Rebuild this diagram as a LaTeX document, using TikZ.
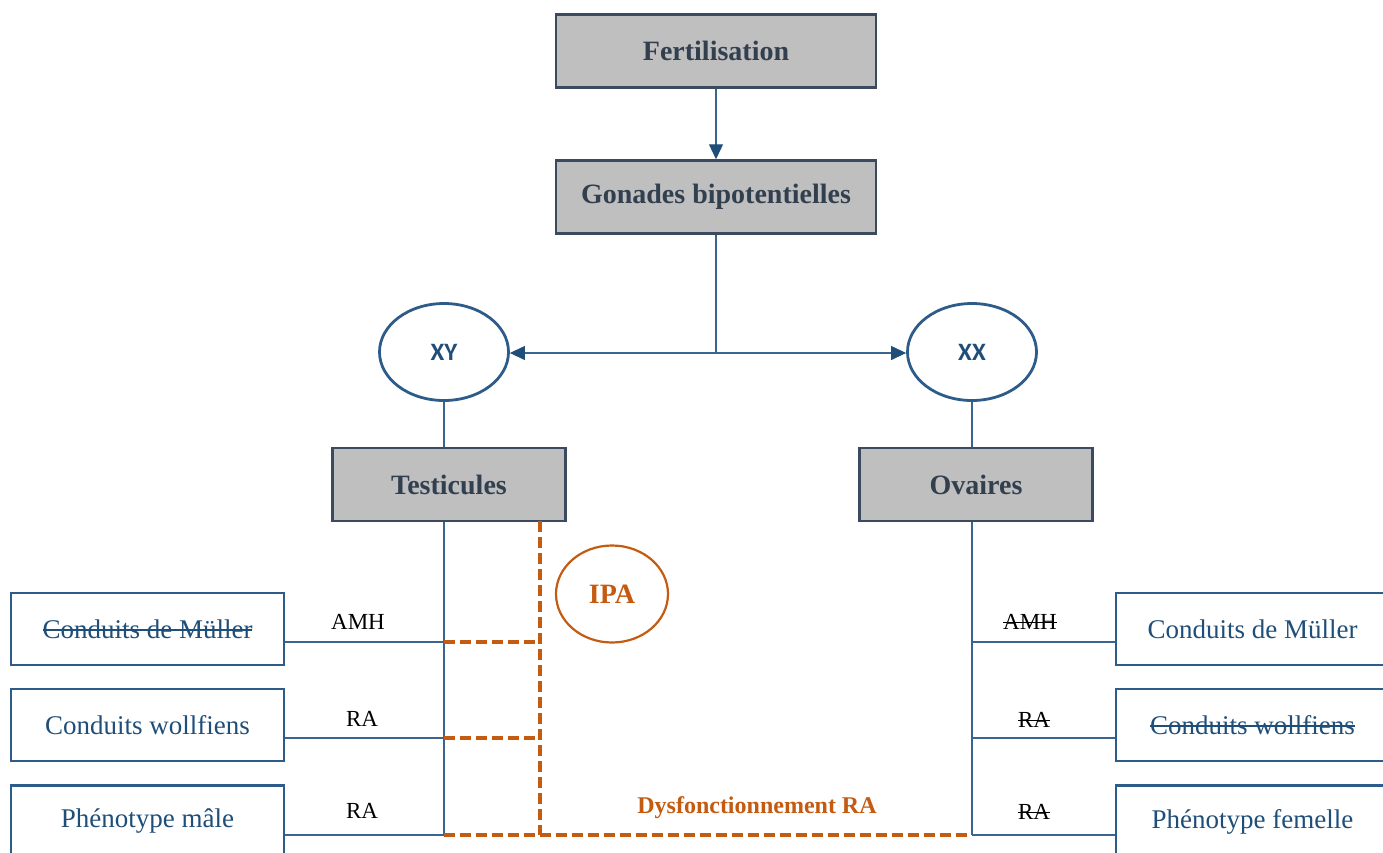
\documentclass[tikz,border=0pt]{standalone}
\usepackage{fontspec}
\setmainfont{Liberation Serif}
\newfontfamily\xyfont{Carlito}
\newcommand\strk[1]{\setbox0\hbox{#1}\leavevmode\rlap{\raise0.28em\hbox{\rule{\wd0}{1.4pt}}}\box0}
\usetikzlibrary{arrows.meta,shapes.geometric}
\definecolor{grayfill}{HTML}{BFBFBF}
\definecolor{grayline}{HTML}{3B4A5E}
\definecolor{darktext}{HTML}{323F4F}
\definecolor{boxblue}{HTML}{2E5C8A}
\definecolor{textblue}{HTML}{1F4E79}
\definecolor{lineblue}{HTML}{3A6591}
\definecolor{ipaorange}{HTML}{C55A11}
\tikzset{
  graybox/.style={draw=grayline, line width=2.5pt, fill=grayfill, minimum width=320, minimum height=73, inner sep=0pt, font=\fontsize{28}{31}\selectfont\bfseries, text=darktext},
  smallgray/.style={graybox, minimum width=233},
  bluebox/.style={draw=boxblue, line width=2.5pt, fill=white, minimum width=273, minimum height=72, inner sep=0pt, font=\fontsize{27}{30}\selectfont, text=textblue},
  chromo/.style={ellipse, draw=boxblue, line width=2.8pt, minimum width=129, minimum height=97, inner sep=0pt, font=\xyfont\fontsize{25}{28}\selectfont\bfseries, text=textblue},
  ipastyle/.style={ellipse, draw=ipaorange, line width=2.2pt, minimum width=112, minimum height=97, inner sep=0pt, font=\fontsize{28}{31}\selectfont\bfseries, text=ipaorange},
  lbl/.style={inner sep=1pt, font=\fontsize{23}{26}\selectfont, text=black},
  conn/.style={draw=lineblue, line width=1.2pt},
  tip/.style={-{Triangle[length=15pt,width=14pt,color=textblue]}},
  dashor/.style={draw=ipaorange, line width=4pt, dash pattern=on 11pt off 5pt},
}
\begin{document}
\begin{tikzpicture}[x=1pt,y=-1pt]
\useasboundingbox (0,0) rectangle (1383,852);
\clip (0,0) rectangle (1383,852);
% top
\node[graybox] (fert) at (716,51) {Fertilisation};
\node[graybox] (gon) at (716,197) {Gonades bipotentielles};
\coordinate (split) at (716,353);
\node[chromo] (xy) at (444,352) {XY};
\node[chromo] (xx) at (972,352) {XX};
\node[smallgray] (test) at (449,484.5) {Testicules};
\node[smallgray] (ov) at (976,484.5) {Ovaires};
% left boxes
\node[bluebox] (lm) at (147.5,629) {\strk{Conduits de Müller}};
\node[bluebox] (lw) at (147.5,725) {Conduits wollfiens};
\node[bluebox] (lp) at (147.5,821.5) {Phénotype mâle};
% right boxes
\node[bluebox] (rm) at (1252.5,629) {Conduits de Müller};
\node[bluebox] (rw) at (1252.5,725) {\strk{Conduits wollfiens}};
\node[bluebox] (rp) at (1252.5,821.5) {Phénotype femelle};
% IPA
\node[ipastyle] (ipa) at (612,594) {IPA};
\node[inner sep=0pt, font=\fontsize{24}{27}\selectfont\bfseries, text=ipaorange] (dys) at (757,808) {Dysfonctionnement RA};
% labels
\node[lbl] (l1) at (358,622) {AMH};
\node[lbl] (l2) at (362,719) {RA};
\node[lbl] (l3) at (362,811) {RA};
\node[lbl] (r1) at (1030,622) {\strk{AMH}};
\node[lbl] (r2) at (1034,720) {\strk{RA}};
\node[lbl] (r3) at (1034,812) {\strk{RA}};
% junctions
\coordinate (lj1) at (444,642);
\coordinate (lj2) at (444,738);
\coordinate (lj3) at (444,835);
\coordinate (rj1) at (972,642);
\coordinate (rj2) at (972,738);
\coordinate (rj3) at (972,835);
\coordinate (ot) at (540,521);
% connectors
\draw[conn,tip] (fert) -- (gon);
\draw[conn] (gon.south) -- (split);
\draw[conn,tip] (split) -- (split -| xy.east);
\draw[conn,tip] (split) -- (split -| xx.west);
\draw[conn] (xy.south) -- (xy.south |- test.north);
\draw[conn] (xx.south) -- (xx.south |- ov.north);
\draw[conn] (xy.south |- test.south) -- (lj3);
\draw[conn] (xx.south |- ov.south) -- (rj3);
\draw[conn] (lm.east |- lj1) -- (lj1);
\draw[conn] (lw.east |- lj2) -- (lj2);
\draw[conn] (lp.east |- lj3) -- (lj3);
\draw[conn] (rj1) -- (rm.west |- rj1);
\draw[conn] (rj2) -- (rw.west |- rj2);
\draw[conn] (rj3) -- (rp.west |- rj3);
% orange dashed
\draw[dashor] (ot) -- (ot |- lj3);
\draw[dashor] (lj1) -- (ot |- lj1);
\draw[dashor] (lj2) -- (ot |- lj2);
\draw[dashor] (lj3) -- (rj3);
\end{tikzpicture}
\end{document}
